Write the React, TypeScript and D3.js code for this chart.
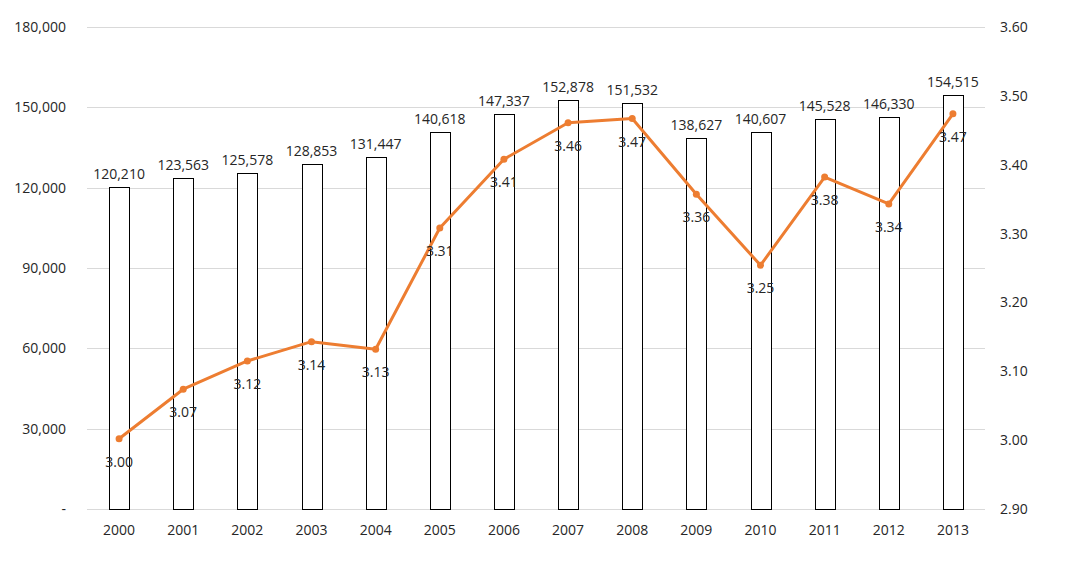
import React, { useEffect, useRef } from 'react';
import * as d3 from 'd3';

const years = ['2000', '2001', '2002', '2003', '2004', '2005', '2006', '2007', '2008', '2009', '2010', '2011', '2012', '2013'];
const barValues = [120210, 123563, 125578, 128853, 131447, 140618, 147337, 152878, 151532, 138627, 140607, 145528, 146330, 154515];
const lineValues = [3.002, 3.074, 3.115, 3.143, 3.132, 3.308, 3.408, 3.461, 3.467, 3.357, 3.254, 3.382, 3.343, 3.474];
const leftTicks = [0, 30000, 60000, 90000, 120000, 150000, 180000];
const rightTicks = [2.9, 3.0, 3.1, 3.2, 3.3, 3.4, 3.5, 3.6];

const W = 1080;
const H = 562;
const FONT = '"Open Sans", "Noto Sans", sans-serif';
const ORANGE = '#ED7D31';

export default function App() {
  const ref = useRef<SVGSVGElement>(null);

  useEffect(() => {
    if (!ref.current) return;
    const svg = d3.select(ref.current);
    svg.selectAll('*').remove();

    const left = 87;
    const right = 985;
    const top = 27;
    const bottom = 509;

    const x = d3.scaleBand().domain(years).range([left, right]).paddingInner(0.69).paddingOuter(0.345);
    const yL = d3.scaleLinear().domain([0, 180000]).range([bottom, top]);
    const yR = d3.scaleLinear().domain([2.9, 3.6]).range([bottom, top]);

    // gridlines
    svg.append('g')
      .selectAll('line')
      .data(leftTicks)
      .enter()
      .append('line')
      .attr('x1', left)
      .attr('x2', right)
      .attr('y1', (d) => Math.round(yL(d)) + 0.5)
      .attr('y2', (d) => Math.round(yL(d)) + 0.5)
      .attr('stroke', '#d9d9d9')
      .attr('stroke-width', 1);

    // left axis labels
    const fmt = d3.format(',');
    svg.append('g')
      .selectAll('text')
      .data(leftTicks)
      .enter()
      .append('text')
      .attr('x', 66)
      .attr('y', (d) => yL(d) + 5)
      .attr('text-anchor', 'end')
      .style('font-family', FONT)
      .style('font-size', '14px')
      .style('fill', '#262626')
      .text((d) => (d === 0 ? '-' : fmt(d)));

    // right axis labels
    svg.append('g')
      .selectAll('text')
      .data(rightTicks)
      .enter()
      .append('text')
      .attr('x', 1000)
      .attr('y', (d) => yR(d) + 5)
      .attr('text-anchor', 'start')
      .style('font-family', FONT)
      .style('font-size', '14px')
      .style('fill', '#262626')
      .text((d) => d.toFixed(2));

    // x labels
    svg.append('g')
      .selectAll('text')
      .data(years)
      .enter()
      .append('text')
      .attr('x', (d) => (x(d) as number) + x.bandwidth() / 2)
      .attr('y', 535)
      .attr('text-anchor', 'middle')
      .style('font-family', FONT)
      .style('font-size', '14px')
      .style('fill', '#262626')
      .text((d) => d);

    // bars
    svg.append('g')
      .selectAll('rect')
      .data(barValues)
      .enter()
      .append('rect')
      .attr('x', (d, i) => Math.round(x(years[i]) as number) + 0.5)
      .attr('y', (d) => Math.round(yL(d)) + 0.5)
      .attr('width', Math.round(x.bandwidth()))
      .attr('height', (d) => bottom - Math.round(yL(d)))
      .attr('fill', '#ffffff')
      .attr('stroke', '#000000')
      .attr('stroke-width', 1);

    // bar labels
    svg.append('g')
      .selectAll('text')
      .data(barValues)
      .enter()
      .append('text')
      .attr('x', (d, i) => (x(years[i]) as number) + x.bandwidth() / 2)
      .attr('y', (d) => yL(d) - 8)
      .attr('text-anchor', 'middle')
      .style('font-family', FONT)
      .style('font-size', '14px')
      .style('fill', '#262626')
      .text((d) => fmt(d));

    // line
    const cx = (i: number) => (x(years[i]) as number) + x.bandwidth() / 2;
    const line = d3.line<number>()
      .x((d, i) => cx(i))
      .y((d) => yR(d));

    svg.append('path')
      .datum(lineValues)
      .attr('d', line)
      .attr('fill', 'none')
      .attr('stroke', ORANGE)
      .attr('stroke-width', 3)
      .attr('stroke-linejoin', 'round');

    svg.append('g')
      .selectAll('circle')
      .data(lineValues)
      .enter()
      .append('circle')
      .attr('cx', (d, i) => cx(i))
      .attr('cy', (d) => yR(d))
      .attr('r', 3.5)
      .attr('fill', ORANGE);

    svg.append('g')
      .selectAll('text')
      .data(lineValues)
      .enter()
      .append('text')
      .attr('x', (d, i) => cx(i))
      .attr('y', (d) => yR(d) + 28)
      .attr('text-anchor', 'middle')
      .style('font-family', FONT)
      .style('font-size', '14px')
      .style('fill', '#262626')
      .text((d) => d.toFixed(2));
  }, []);

  return (
    <div style={{ width: W, height: H, margin: -8, background: '#fff' }}>
      <svg ref={ref} width={W} height={H} style={{ display: 'block' }} />
    </div>
  );
}
